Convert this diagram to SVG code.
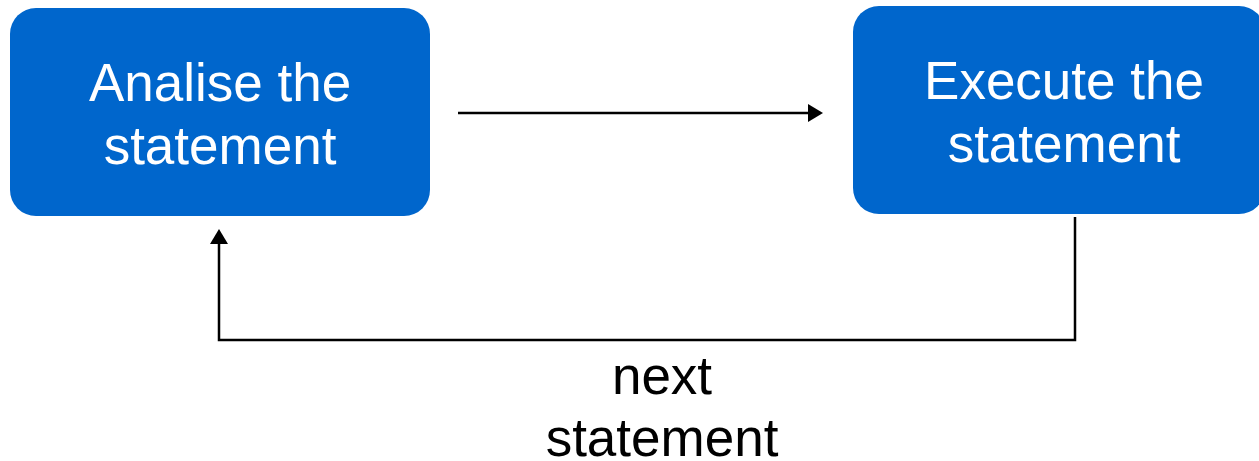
<svg xmlns="http://www.w3.org/2000/svg" width="1259" height="461" viewBox="0 0 1259 461">
<style>
.box{fill:#0066CC}
.wt{fill:#fff;font-family:"Liberation Sans",Arial,sans-serif;font-size:53px;text-anchor:middle}
.bt{fill:#000;font-family:"Liberation Sans",Arial,sans-serif;font-size:53px;text-anchor:middle}
.ln{fill:none;stroke:#000;stroke-width:2.5}
</style>
<defs>
<marker id="ah" viewBox="0 0 10 10" refX="10" refY="5" markerWidth="6" markerHeight="6" markerUnits="userSpaceOnUse" orient="auto">
<path d="M0,0 L10,5 L0,10 z" fill="#000"/>
</marker>
</defs>
<g id="analise">
<rect class="box" x="10" y="8" width="420" height="208" rx="26"/>
<text class="wt" x="220" y="101">Analise the</text>
<text class="wt" x="220" y="164">statement</text>
</g>
<g id="execute">
<rect class="box" x="853" y="6" width="412" height="208" rx="26"/>
<text class="wt" x="1064" y="99">Execute the</text>
<text class="wt" x="1064" y="162">statement</text>
</g>
<g id="connectors">
<line class="ln" x1="458" y1="113" x2="808" y2="113"/>
<path d="M808,104 L823,113 L808,122 z" fill="#000"/>
<polyline class="ln" points="1075,217 1075,340 219,340 219,244"/>
<path d="M210,244 L219,229 L228,244 z" fill="#000"/>
</g>
<g id="label">
<text class="bt" x="662" y="394">next</text>
<text class="bt" x="662" y="456">statement</text>
</g>
</svg>
